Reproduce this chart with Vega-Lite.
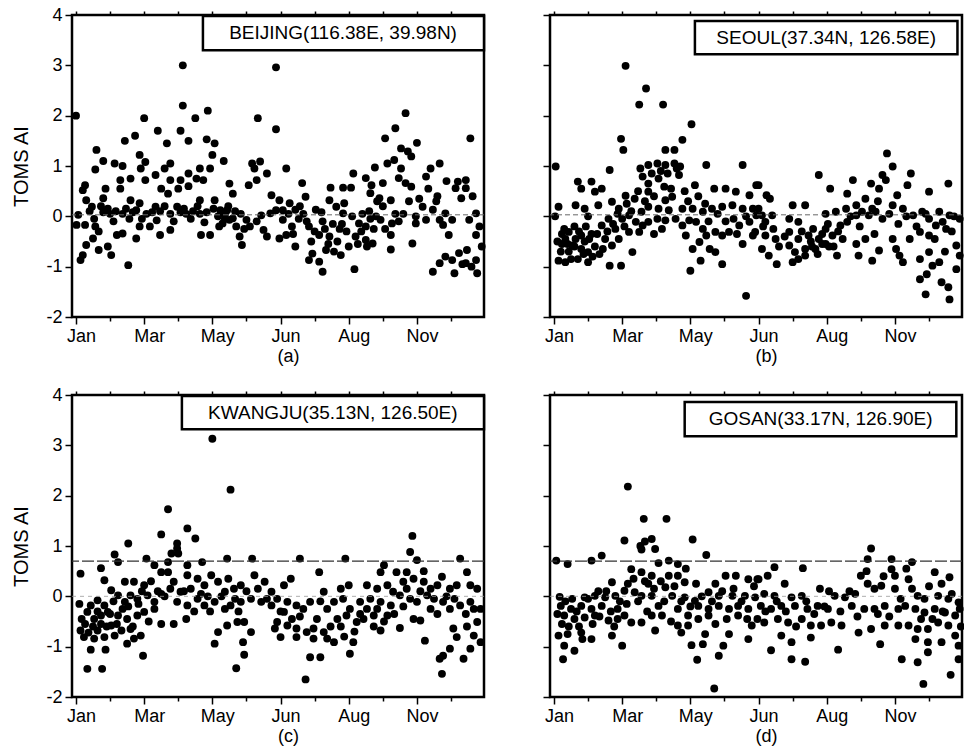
{
"$schema": "https://vega.github.io/schema/vega-lite/v6.json",
"background": "white",
"padding": {"left": 10, "top": 4, "right": 0, "bottom": 0},
"datasets": {
"a": [
{"d":0,"v":2.0},{"d":94,"v":3.0},{"d":94,"v":2.2},{"d":116,"v":2.1},{"d":105,"v":1.95},{"d":60,"v":1.95},{"d":72,"v":1.7},{"d":92,"v":1.7},{"d":99,"v":1.5},{"d":43,"v":1.5},{"d":52,"v":1.6},{"d":80,"v":1.45},{"d":115,"v":1.53},{"d":122,"v":1.45},{"d":120,"v":1.22},{"d":130,"v":1.1},{"d":18,"v":1.32},{"d":24,"v":1.1},{"d":17,"v":0.93},{"d":34,"v":1.05},{"d":41,"v":1.0},{"d":56,"v":1.22},{"d":61,"v":1.08},{"d":57,"v":0.95},{"d":83,"v":1.05},{"d":78,"v":0.95},{"d":109,"v":0.95},{"d":118,"v":0.95},{"d":99,"v":0.85},{"d":106,"v":0.75},{"d":112,"v":0.72},{"d":70,"v":0.82},{"d":61,"v":0.72},{"d":39,"v":0.72},{"d":48,"v":0.75},{"d":83,"v":0.72},{"d":92,"v":0.72},{"d":8,"v":0.62},{"d":6,"v":0.52},{"d":26,"v":0.55},{"d":39,"v":0.55},{"d":75,"v":0.55},{"d":81,"v":0.45},{"d":90,"v":0.55},{"d":99,"v":0.6},{"d":135,"v":0.65},{"d":138,"v":0.45},{"d":155,"v":1.05},{"d":162,"v":1.09},{"d":157,"v":0.95},{"d":168,"v":0.85},{"d":160,"v":1.95},{"d":176,"v":2.96},{"d":176,"v":1.73},{"d":152,"v":0.62},{"d":159,"v":0.72},{"d":172,"v":0.42},{"d":9,"v":0.32},{"d":14,"v":0.19},{"d":24,"v":0.36},{"d":48,"v":0.32},{"d":56,"v":0.26},{"d":70,"v":0.19},{"d":89,"v":0.19},{"d":109,"v":0.32},{"d":122,"v":0.32},
{"d":24,"v":0.08},{"d":30,"v":0.05},{"d":35,"v":0.1},{"d":41,"v":0.05},{"d":50,"v":0.08},{"d":62,"v":0.05},{"d":74,"v":0.1},{"d":83,"v":0.05},{"d":92,"v":0.08},{"d":97,"v":0.05},{"d":103,"v":0.1},{"d":109,"v":0.05},{"d":115,"v":0.08},
{"d":131,"v":0.03},{"d":127,"v":0.12},{"d":133,"v":0.12},{"d":135,"v":-0.07},{"d":129,"v":-0.14},{"d":138,"v":-0.04},{"d":125,"v":0.0},{"d":131,"v":-0.05},
{"d":2,"v":0.03},{"d":0.5,"v":-0.17},{"d":8,"v":-0.17},{"d":17,"v":-0.2},{"d":20,"v":-0.3},{"d":15,"v":-0.44},{"d":9,"v":-0.57},{"d":6,"v":-0.77},{"d":4,"v":-0.87},{"d":20,"v":-0.67},{"d":28,"v":-0.6},{"d":31,"v":-0.77},{"d":36,"v":-0.37},{"d":41,"v":-0.34},{"d":46,"v":-0.97},{"d":56,"v":-0.2},{"d":53,"v":-0.44},{"d":65,"v":-0.2},{"d":74,"v":-0.37},{"d":83,"v":-0.27},{"d":110,"v":-0.37},{"d":118,"v":-0.37},{"d":141,"v":-0.2},{"d":144,"v":-0.4},{"d":146,"v":-0.57},{"d":150,"v":-0.07},{"d":159,"v":-0.1},{"d":165,"v":-0.27},{"d":168,"v":-0.4},{"d":171,"v":0.06},{"d":176,"v":0.12},
{"d":185,"v":0.95},{"d":199,"v":0.66},{"d":224,"v":0.57},{"d":235,"v":0.57},{"d":242,"v":0.57},{"d":244,"v":0.85},{"d":290,"v":2.05},{"d":281,"v":1.75},{"d":272,"v":1.55},{"d":300,"v":1.46},{"d":286,"v":1.35},{"d":292,"v":1.29},{"d":295,"v":1.19},{"d":280,"v":1.12},{"d":274,"v":1.05},{"d":263,"v":0.97},{"d":320,"v":1.05},{"d":312,"v":0.95},{"d":308,"v":0.79},{"d":347,"v":1.55},{"d":284,"v":0.76},{"d":290,"v":0.66},{"d":295,"v":0.59},{"d":255,"v":0.76},{"d":270,"v":0.66},{"d":336,"v":0.69},{"d":343,"v":0.72},{"d":334,"v":0.56},{"d":343,"v":0.56},{"d":339,"v":0.36},{"d":259,"v":0.46},{"d":267,"v":0.36},{"d":277,"v":0.32},{"d":223,"v":0.32},{"d":236,"v":0.26},{"d":179,"v":0.32},{"d":188,"v":0.26},{"d":193,"v":0.13},{"d":182,"v":-0.07},{"d":190,"v":-0.2},{"d":185,"v":-0.37},{"d":179,"v":-0.44},{"d":202,"v":0.39},{"d":211,"v":0.13},{"d":217,"v":-0.1},{"d":205,"v":-0.2},{"d":214,"v":-0.37},{"d":223,"v":-0.4},{"d":229,"v":0.19},{"d":235,"v":0.06},{"d":243,"v":0},{"d":249,"v":-0.14},{"d":255,"v":-0.2},{"d":246,"v":-0.4},{"d":255,"v":-0.47},{"d":193,"v":-0.6},{"d":205,"v":-0.87},{"d":214,"v":-0.9},{"d":217,"v":-1.1},{"d":208,"v":-0.74},{"d":220,"v":-0.67},{"d":227,"v":-0.7},{"d":233,"v":-0.77},{"d":245,"v":-1.05},{"d":261,"v":-0.54},{"d":277,"v":-0.66},{"d":268,"v":-0.07},{"d":278,"v":-0.14},{"d":277,"v":-0.37},{"d":296,"v":-0.54},{"d":299,"v":0},{"d":305,"v":0.19},{"d":308,"v":-0.07},{"d":314,"v":0.13},{"d":320,"v":-0.07},{"d":325,"v":0.06},{"d":331,"v":-0.07},{"d":299,"v":-0.14},{"d":323,"v":-0.17},{"d":328,"v":-0.37},{"d":346,"v":-0.07},{"d":352,"v":0.06},{"d":355,"v":-0.2},{"d":352,"v":-0.37},{"d":314,"v":-1.1},{"d":320,"v":-0.93},{"d":325,"v":-0.8},{"d":331,"v":-0.87},{"d":337,"v":-0.73},{"d":343,"v":-0.93},{"d":333,"v":-1.13},{"d":344,"v":-0.67},{"d":352,"v":-0.87},{"d":353,"v":-1.13},
{"d":196,"v":-0.05},{"d":200,"v":0.05},{"d":226,"v":-0.15},{"d":232,"v":-0.25},{"d":238,"v":-0.3},{"d":252,"v":0.05},{"d":262,"v":-0.25},{"d":284,"v":-0.1},{"d":288,"v":0.05},{"d":258,"v":0.1},{"d":265,"v":0.3},
{"d":12,"v":0.1},{"d":16,"v":-0.05},{"d":22,"v":0.2},{"d":28,"v":0.15},{"d":33,"v":-0.1},{"d":44,"v":0.15},{"d":47,"v":-0.05},{"d":53,"v":0.12},{"d":58,"v":-0.05},{"d":67,"v":0.08},{"d":71,"v":-0.08},{"d":78,"v":0.2},{"d":86,"v":-0.1},{"d":95,"v":0.15},{"d":101,"v":-0.05},{"d":107,"v":0.2},{"d":113,"v":-0.12},{"d":121,"v":0.15},{"d":126,"v":-0.2},{"d":134,"v":0.2},{"d":140,"v":0.1},{"d":145,"v":0.05},{"d":148,"v":-0.25},{"d":153,"v":-0.2},{"d":163,"v":0.02},{"d":182,"v":0.12},{"d":187,"v":0.05},{"d":191,"v":-0.35},{"d":197,"v":0.2},{"d":203,"v":-0.1},{"d":207,"v":-0.5},{"d":210,"v":-0.3},{"d":216,"v":0.08},{"d":219,"v":-0.25},{"d":222,"v":-0.55},{"d":230,"v":-0.5},{"d":234,"v":-0.15},{"d":240,"v":-0.6},{"d":248,"v":-0.55},{"d":251,"v":-0.3},{"d":256,"v":-0.6},{"d":259,"v":-0.05},{"d":264,"v":0.0},{"d":270,"v":0.2},{"d":272,"v":-0.25},{"d":281,"v":0.05},{"d":293,"v":0.3},{"d":302,"v":0.35},{"d":310,"v":0.55},{"d":317,"v":0.3},{"d":326,"v":0.7},{"d":349,"v":0.4},{"d":357,"v":-0.6},{"d":340,"v":-0.95},{"d":348,"v":-1.0},{"d":318,"v":0.4},{"d":286,"v":0.95},{"d":260,"v":0.62}
],
"b": [
{"d":63,"v":2.99},{"d":81,"v":2.54},{"d":75,"v":2.22},{"d":96,"v":2.22},{"d":121,"v":1.83},{"d":113,"v":1.52},{"d":59,"v":1.54},{"d":61,"v":1.32},{"d":98,"v":1.32},{"d":106,"v":1.32},{"d":1.5,"v":0.99},{"d":49,"v":0.92},{"d":134,"v":1.02},{"d":166,"v":1.02},{"d":76,"v":0.95},{"d":83,"v":1.02},{"d":91,"v":1.05},{"d":98,"v":1.02},{"d":106,"v":1.05},{"d":111,"v":0.99},{"d":110,"v":0.82},{"d":78,"v":0.79},{"d":83,"v":0.65},{"d":92,"v":0.75},{"d":97,"v":0.59},{"d":124,"v":0.62},{"d":141,"v":0.55},{"d":151,"v":0.55},{"d":160,"v":0.49},{"d":172,"v":0.42},{"d":178,"v":0.62},{"d":21,"v":0.69},{"d":24,"v":0.55},{"d":33,"v":0.69},{"d":36,"v":0.49},{"d":42,"v":0.55},{"d":63,"v":0.41},{"d":83,"v":0.49},{"d":104,"v":0.39},{"d":98,"v":0.32},{"d":4,"v":0.19},{"d":19,"v":0.22},{"d":27,"v":0.15},{"d":39,"v":0.22},{"d":51,"v":0.29},{"d":57,"v":0.15},{"d":83,"v":0.19},{"d":77,"v":0.09},{"d":92,"v":0.15},{"d":101,"v":0.12},{"d":113,"v":0.15},{"d":122,"v":0.15},{"d":131,"v":0.09},{"d":139,"v":0.15},{"d":148,"v":0.19},{"d":157,"v":0.22},{"d":166,"v":0.15},{"d":175,"v":0.15},{"d":1,"v":0},{"d":30,"v":0},{"d":7,"v":-0.35},{"d":13,"v":-0.31},{"d":19,"v":-0.45},{"d":24,"v":-0.38},{"d":33,"v":-0.35},{"d":7,"v":-0.55},{"d":16,"v":-0.58},{"d":24,"v":-0.65},{"d":30,"v":-0.71},{"d":21,"v":-0.85},{"d":4,"v":-0.88},{"d":10,"v":-0.91},{"d":30,"v":-0.91},{"d":42,"v":-0.18},{"d":48,"v":-0.05},{"d":54,"v":-0.25},{"d":60,"v":-0.05},{"d":66,"v":0.02},{"d":72,"v":-0.11},{"d":78,"v":-0.18},{"d":83,"v":-0.11},{"d":45,"v":-0.45},{"d":51,"v":-0.58},{"d":57,"v":-0.45},{"d":66,"v":-0.31},{"d":75,"v":-0.31},{"d":69,"v":-0.71},{"d":49,"v":-0.98},{"d":59,"v":-0.98},{"d":88,"v":-0.35},{"d":95,"v":-0.25},{"d":91,"v":-0.05},{"d":98,"v":-0.08},{"d":107,"v":-0.05},{"d":113,"v":-0.18},{"d":119,"v":-0.08},{"d":125,"v":-0.11},{"d":131,"v":-0.25},{"d":116,"v":-0.38},{"d":122,"v":-0.65},{"d":128,"v":-0.51},{"d":134,"v":-0.38},{"d":137,"v":-0.65},{"d":142,"v":-0.31},{"d":148,"v":-0.38},{"d":154,"v":-0.31},{"d":120,"v":-1.08},{"d":129,"v":-0.88},{"d":142,"v":-0.71},{"d":148,"v":-0.95},{"d":163,"v":-0.18},{"d":172,"v":-0.11},{"d":178,"v":0.02},{"d":166,"v":-0.55},{"d":175,"v":-0.38},{"d":169,"v":-1.58},
{"d":10,"v":-0.45},{"d":13,"v":-0.7},{"d":27,"v":-0.5},{"d":18,"v":-0.2},{"d":36,"v":-0.6},{"d":40,"v":-0.75},
{"d":293,"v":1.25},{"d":298,"v":0.99},{"d":233,"v":0.82},{"d":263,"v":0.72},{"d":243,"v":0.55},{"d":258,"v":0.45},{"d":274,"v":0.35},{"d":279,"v":0.65},{"d":286,"v":0.55},{"d":289,"v":0.82},{"d":292,"v":0.72},{"d":314,"v":0.85},{"d":311,"v":0.62},{"d":302,"v":0.42},{"d":298,"v":0.22},{"d":330,"v":0.49},{"d":347,"v":0.65},{"d":180,"v":0.62},{"d":187,"v":0.42},{"d":190,"v":0.35},{"d":210,"v":0.22},{"d":221,"v":0.22},{"d":180,"v":0.15},{"d":183,"v":0.02},{"d":192,"v":0.02},{"d":186,"v":-0.11},{"d":239,"v":0.05},{"d":248,"v":0.09},{"d":257,"v":0.15},{"d":266,"v":0.22},{"d":271,"v":0.09},{"d":277,"v":0.02},{"d":283,"v":0.09},{"d":289,"v":-0.05},{"d":266,"v":0.02},{"d":307,"v":0.15},{"d":316,"v":0.02},{"d":324,"v":0.09},{"d":330,"v":-0.05},{"d":339,"v":0.09},{"d":348,"v":0.02},{"d":357,"v":-0.05},{"d":207,"v":-0.05},{"d":215,"v":-0.11},{"d":177,"v":-0.31},{"d":186,"v":-0.38},{"d":195,"v":-0.45},{"d":183,"v":-0.65},{"d":207,"v":-0.31},{"d":215,"v":-0.45},{"d":224,"v":-0.38},{"d":233,"v":-0.45},{"d":239,"v":-0.25},{"d":245,"v":-0.38},{"d":207,"v":-0.58},{"d":212,"v":-0.71},{"d":221,"v":-0.65},{"d":230,"v":-0.65},{"d":239,"v":-0.55},{"d":189,"v":-0.78},{"d":196,"v":-0.95},{"d":210,"v":-0.91},{"d":215,"v":-0.85},{"d":221,"v":-0.78},{"d":252,"v":-0.18},{"d":258,"v":-0.11},{"d":254,"v":-0.45},{"d":266,"v":-0.55},{"d":274,"v":-0.45},{"d":282,"v":-0.35},{"d":249,"v":-0.78},{"d":268,"v":-0.78},{"d":280,"v":-0.88},{"d":286,"v":-0.68},{"d":298,"v":-0.45},{"d":301,"v":-0.65},{"d":304,"v":-0.78},{"d":307,"v":-0.91},{"d":313,"v":-0.45},{"d":322,"v":-0.31},{"d":330,"v":-0.38},{"d":336,"v":-0.18},{"d":342,"v":-0.11},{"d":345,"v":-0.25},{"d":322,"v":-0.85},{"d":330,"v":-0.71},{"d":333,"v":-0.98},{"d":339,"v":-0.91},{"d":354,"v":-0.58},{"d":357,"v":-0.78},{"d":354,"v":-1.05},{"d":322,"v":-1.25},{"d":328,"v":-1.15},{"d":341,"v":-1.31},{"d":347,"v":-1.41},{"d":327,"v":-1.55},{"d":348,"v":-1.65},
{"d":226,"v":-0.5},{"d":236,"v":-0.35},{"d":242,"v":-0.6},{"d":228,"v":-0.25},
{"d":3,"v":-0.5},{"d":6,"v":-0.7},{"d":9,"v":-0.25},{"d":12,"v":-0.55},{"d":15,"v":-0.85},{"d":18,"v":-0.6},{"d":22,"v":-0.3},{"d":26,"v":-0.75},{"d":28,"v":-0.2},{"d":31,"v":-0.45},{"d":34,"v":-0.8},{"d":38,"v":-0.35},{"d":43,"v":-0.65},{"d":47,"v":-0.3},{"d":52,"v":-0.15},{"d":56,"v":0.05},{"d":62,"v":-0.2},{"d":64,"v":0.25},{"d":68,"v":0.1},{"d":71,"v":0.35},{"d":74,"v":0.5},{"d":80,"v":0.3},{"d":86,"v":0.85},{"d":88,"v":0.4},{"d":94,"v":0.9},{"d":100,"v":0.85},{"d":103,"v":0.55},{"d":108,"v":0.95},{"d":115,"v":0.5},{"d":118,"v":0.3},{"d":127,"v":0.4},{"d":133,"v":0.25},{"d":136,"v":-0.1},{"d":144,"v":0.05},{"d":151,"v":-0.1},{"d":158,"v":-0.05},{"d":161,"v":-0.35},{"d":169,"v":0.0},{"d":184,"v":-0.2},{"d":193,"v":-0.25},{"d":198,"v":-0.6},{"d":203,"v":-0.4},{"d":218,"v":-0.3},{"d":227,"v":-0.6},{"d":232,"v":-0.75},{"d":236,"v":-0.55},{"d":241,"v":-0.15},{"d":246,"v":-0.6},{"d":250,"v":-0.3},{"d":261,"v":0.0},{"d":269,"v":-0.2},{"d":280,"v":0.15},{"d":285,"v":0.3},{"d":295,"v":0.05},{"d":303,"v":-0.15},{"d":310,"v":0.0},{"d":319,"v":-0.2},{"d":327,"v":0.05},{"d":335,"v":-0.45},{"d":350,"v":-0.3},{"d":352,"v":0.0},{"d":344,"v":-0.7}
],
"c": [
{"d":120,"v":3.13},{"d":136,"v":2.12},{"d":81,"v":1.73},{"d":98,"v":1.35},{"d":105,"v":1.15},{"d":75,"v":1.23},{"d":46,"v":1.05},{"d":89,"v":1.05},{"d":89,"v":0.95},{"d":84,"v":0.85},{"d":90,"v":0.85},{"d":34,"v":0.83},{"d":37,"v":0.68},{"d":133,"v":0.75},{"d":155,"v":0.75},{"d":111,"v":0.68},{"d":62,"v":0.75},{"d":69,"v":0.62},{"d":81,"v":0.68},{"d":75,"v":0.48},{"d":81,"v":0.48},{"d":98,"v":0.62},{"d":98,"v":0.42},{"d":22,"v":0.56},{"d":4,"v":0.45},{"d":25,"v":0.32},{"d":43,"v":0.29},{"d":51,"v":0.29},{"d":60,"v":0.22},{"d":31,"v":0.12},{"d":86,"v":0.29},{"d":92,"v":0.09},{"d":107,"v":0.35},{"d":113,"v":0.22},{"d":119,"v":0.42},{"d":125,"v":0.29},{"d":131,"v":0.09},{"d":139,"v":0.15},{"d":145,"v":0.22},{"d":157,"v":0.42},{"d":166,"v":0.29},{"d":172,"v":0.09},{"d":3,"v":-0.15},{"d":13,"v":-0.18},{"d":19,"v":-0.08},{"d":25,"v":-0.18},{"d":10,"v":-0.31},{"d":16,"v":-0.45},{"d":22,"v":-0.38},{"d":28,"v":-0.31},{"d":37,"v":0.02},{"d":43,"v":-0.11},{"d":48,"v":0.02},{"d":54,"v":-0.05},{"d":63,"v":0.02},{"d":69,"v":-0.11},{"d":75,"v":0.05},{"d":37,"v":-0.38},{"d":45,"v":-0.45},{"d":54,"v":-0.38},{"d":60,"v":-0.31},{"d":69,"v":-0.25},{"d":89,"v":-0.11},{"d":98,"v":-0.18},{"d":107,"v":-0.05},{"d":113,"v":-0.18},{"d":122,"v":-0.11},{"d":131,"v":-0.25},{"d":136,"v":-0.18},{"d":145,"v":-0.11},{"d":154,"v":-0.05},{"d":163,"v":-0.11},{"d":172,"v":-0.18},{"d":75,"v":-0.55},{"d":86,"v":-0.55},{"d":97,"v":-0.45},{"d":4,"v":-0.68},{"d":19,"v":-0.68},{"d":31,"v":-0.58},{"d":40,"v":-0.68},{"d":48,"v":-0.65},{"d":57,"v":-0.78},{"d":7,"v":-0.81},{"d":16,"v":-0.84},{"d":25,"v":-0.81},{"d":34,"v":-0.78},{"d":45,"v":-0.94},{"d":51,"v":-0.84},{"d":13,"v":-1.06},{"d":26,"v":-1.06},{"d":59,"v":-1.18},{"d":10,"v":-1.44},{"d":23,"v":-1.44},{"d":125,"v":-0.71},{"d":133,"v":-0.58},{"d":142,"v":-0.51},{"d":148,"v":-0.51},{"d":154,"v":-0.71},{"d":122,"v":-0.94},{"d":147,"v":-0.91},{"d":148,"v":-1.16},{"d":141,"v":-1.43},{"d":175,"v":-0.64},
{"d":296,"v":1.2},{"d":294,"v":0.88},{"d":300,"v":0.72},{"d":197,"v":0.75},{"d":237,"v":0.75},{"d":338,"v":0.75},{"d":214,"v":0.48},{"d":271,"v":0.62},{"d":268,"v":0.48},{"d":282,"v":0.48},{"d":291,"v":0.48},{"d":322,"v":0.39},{"d":344,"v":0.48},{"d":189,"v":0.35},{"d":183,"v":0.22},{"d":240,"v":0.22},{"d":233,"v":0.15},{"d":218,"v":0.09},{"d":256,"v":0.22},{"d":265,"v":0.15},{"d":274,"v":0.22},{"d":279,"v":0.09},{"d":288,"v":0.29},{"d":297,"v":0.35},{"d":306,"v":0.29},{"d":312,"v":0.15},{"d":318,"v":0.22},{"d":329,"v":0.15},{"d":335,"v":0.22},{"d":347,"v":0.22},{"d":353,"v":0.15},{"d":177,"v":-0.05},{"d":186,"v":-0.11},{"d":183,"v":-0.31},{"d":194,"v":-0.18},{"d":200,"v":-0.25},{"d":206,"v":-0.11},{"d":221,"v":-0.25},{"d":227,"v":-0.11},{"d":235,"v":-0.05},{"d":241,"v":-0.25},{"d":250,"v":-0.11},{"d":259,"v":-0.05},{"d":268,"v":-0.11},{"d":277,"v":-0.18},{"d":285,"v":0.02},{"d":294,"v":-0.05},{"d":300,"v":-0.11},{"d":309,"v":0.02},{"d":315,"v":-0.05},{"d":323,"v":-0.11},{"d":329,"v":-0.25},{"d":338,"v":-0.18},{"d":347,"v":-0.11},{"d":356,"v":-0.25},{"d":177,"v":-0.51},{"d":186,"v":-0.58},{"d":194,"v":-0.64},{"d":203,"v":-0.71},{"d":209,"v":-0.64},{"d":218,"v":-0.71},{"d":180,"v":-0.81},{"d":194,"v":-0.81},{"d":209,"v":-0.84},{"d":221,"v":-0.84},{"d":227,"v":-0.91},{"d":230,"v":-0.45},{"d":238,"v":-0.38},{"d":247,"v":-0.51},{"d":253,"v":-0.45},{"d":262,"v":-0.38},{"d":274,"v":-0.38},{"d":268,"v":-0.68},{"d":285,"v":-0.63},{"d":297,"v":-0.45},{"d":303,"v":-0.48},{"d":244,"v":-0.91},{"d":241,"v":-1.14},{"d":206,"v":-1.21},{"d":215,"v":-1.21},{"d":202,"v":-1.65},{"d":307,"v":-0.88},{"d":332,"v":-0.64},{"d":335,"v":-0.81},{"d":329,"v":-1.04},{"d":323,"v":-1.18},{"d":320,"v":-1.24},{"d":322,"v":-1.54},{"d":347,"v":-1.04},{"d":341,"v":-1.24},{"d":350,"v":-0.78},{"d":353,"v":-0.51},{"d":356,"v":-0.91},
{"d":5,"v":-0.45},{"d":8,"v":-0.55},{"d":11,"v":-0.72},{"d":15,"v":-0.6},{"d":19,"v":-0.3},{"d":22,"v":-0.55},{"d":27,"v":-0.6},{"d":30,"v":-0.35},{"d":33,"v":-0.1},{"d":36,"v":-0.55},{"d":41,"v":-0.25},{"d":46,"v":-0.2},{"d":50,"v":-0.6},{"d":55,"v":-0.15},{"d":58,"v":0.1},{"d":64,"v":-0.5},{"d":66,"v":0.3},{"d":72,"v":0.1},{"d":78,"v":0.0},{"d":83,"v":0.15},{"d":95,"v":0.1},{"d":101,"v":0.15},{"d":104,"v":-0.3},{"d":110,"v":0.05},{"d":116,"v":0.0},{"d":118,"v":-0.3},{"d":128,"v":0.0},{"d":134,"v":0.35},{"d":140,"v":-0.05},{"d":143,"v":-0.3},{"d":150,"v":0.1},{"d":160,"v":0.15},{"d":168,"v":-0.05},{"d":180,"v":-0.3},{"d":190,"v":-0.45},{"d":197,"v":-0.4},{"d":212,"v":-0.45},{"d":215,"v":-0.1},{"d":224,"v":-0.6},{"d":233,"v":-0.6},{"d":236,"v":-0.8},{"d":245,"v":-0.7},{"d":250,"v":-0.35},{"d":256,"v":-0.25},{"d":262,"v":-0.6},{"d":265,"v":-0.25},{"d":271,"v":-0.5},{"d":280,"v":-0.35},{"d":288,"v":-0.2},{"d":291,"v":0.15},{"d":303,"v":0.1},{"d":306,"v":0.5},{"d":312,"v":-0.25},{"d":318,"v":-0.35},{"d":326,"v":0.0},{"d":333,"v":-0.05},{"d":343,"v":-0.35},{"d":350,"v":-0.25},{"d":344,"v":-0.6}
],
"d": [
{"d":65,"v":2.18},{"d":79,"v":1.54},{"d":99,"v":1.54},{"d":62,"v":1.11},{"d":122,"v":1.13},{"d":76,"v":1.0},{"d":80,"v":1.09},{"d":86,"v":1.14},{"d":89,"v":0.94},{"d":77,"v":0.93},{"d":134,"v":0.82},{"d":2,"v":0.71},{"d":12,"v":0.64},{"d":33,"v":0.71},{"d":42,"v":0.81},{"d":92,"v":0.66},{"d":101,"v":0.71},{"d":109,"v":0.64},{"d":68,"v":0.54},{"d":77,"v":0.48},{"d":86,"v":0.41},{"d":83,"v":0.25},{"d":101,"v":0.41},{"d":109,"v":0.41},{"d":115,"v":0.28},{"d":51,"v":0.28},{"d":151,"v":0.41},{"d":160,"v":0.41},{"d":171,"v":0.34},{"d":180,"v":0.34},{"d":142,"v":0.25},{"d":136,"v":0.08},{"d":65,"v":0.25},{"d":71,"v":0.08},{"d":62,"v":0.11},{"d":98,"v":0.18},{"d":104,"v":0.01},{"d":5,"v":-0.01},{"d":27,"v":-0.02},{"d":36,"v":0.01},{"d":45,"v":-0.02},{"d":54,"v":0.01},{"d":77,"v":0.01},{"d":86,"v":0.01},{"d":115,"v":-0.02},{"d":124,"v":-0.09},{"d":145,"v":0.01},{"d":157,"v":0.01},{"d":168,"v":0.01},{"d":177,"v":-0.02},{"d":6,"v":-0.19},{"d":15,"v":-0.25},{"d":24,"v":-0.19},{"d":33,"v":-0.25},{"d":42,"v":-0.19},{"d":56,"v":-0.25},{"d":62,"v":-0.38},{"d":92,"v":-0.19},{"d":95,"v":-0.38},{"d":109,"v":-0.25},{"d":118,"v":-0.38},{"d":127,"v":-0.19},{"d":136,"v":-0.25},{"d":145,"v":-0.19},{"d":154,"v":-0.25},{"d":162,"v":-0.19},{"d":171,"v":-0.25},{"d":9,"v":-0.38},{"d":18,"v":-0.45},{"d":27,"v":-0.42},{"d":36,"v":-0.38},{"d":48,"v":-0.48},{"d":56,"v":-0.45},{"d":68,"v":-0.52},{"d":77,"v":-0.52},{"d":86,"v":-0.38},{"d":109,"v":-0.58},{"d":118,"v":-0.58},{"d":127,"v":-0.45},{"d":136,"v":-0.38},{"d":162,"v":-0.38},{"d":174,"v":-0.58},{"d":4,"v":-0.78},{"d":12,"v":-0.75},{"d":24,"v":-0.72},{"d":33,"v":-0.85},{"d":51,"v":-0.78},{"d":60,"v":-0.98},{"d":89,"v":-0.68},{"d":112,"v":-0.72},{"d":133,"v":-0.75},{"d":154,"v":-0.75},{"d":171,"v":-0.85},{"d":9,"v":-0.98},{"d":18,"v":-1.08},{"d":8,"v":-1.25},{"d":121,"v":-0.97},{"d":131,"v":-0.95},{"d":149,"v":-0.98},{"d":145,"v":-1.18},{"d":126,"v":-1.26},{"d":141,"v":-1.83},
{"d":279,"v":0.95},{"d":276,"v":0.74},{"d":297,"v":0.74},{"d":315,"v":0.68},{"d":219,"v":0.56},{"d":194,"v":0.58},{"d":188,"v":0.41},{"d":297,"v":0.54},{"d":300,"v":0.41},{"d":335,"v":0.48},{"d":348,"v":0.38},{"d":341,"v":0.25},{"d":203,"v":0.25},{"d":179,"v":0.34},{"d":234,"v":0.15},{"d":270,"v":0.41},{"d":276,"v":0.25},{"d":282,"v":0.15},{"d":288,"v":0.21},{"d":312,"v":0.34},{"d":315,"v":0.15},{"d":320,"v":0.01},{"d":326,"v":-0.05},{"d":338,"v":0.01},{"d":347,"v":-0.05},{"d":356,"v":-0.12},{"d":185,"v":0.05},{"d":194,"v":0.01},{"d":209,"v":-0.02},{"d":218,"v":0.01},{"d":247,"v":0.01},{"d":256,"v":-0.02},{"d":265,"v":0.05},{"d":182,"v":-0.19},{"d":191,"v":-0.25},{"d":200,"v":-0.19},{"d":212,"v":-0.19},{"d":223,"v":-0.25},{"d":232,"v":-0.19},{"d":241,"v":-0.25},{"d":262,"v":-0.19},{"d":273,"v":-0.25},{"d":282,"v":-0.25},{"d":291,"v":-0.19},{"d":303,"v":-0.25},{"d":309,"v":-0.19},{"d":318,"v":-0.25},{"d":326,"v":-0.32},{"d":335,"v":-0.25},{"d":344,"v":-0.32},{"d":353,"v":-0.38},{"d":357,"v":-0.25},{"d":179,"v":-0.45},{"d":185,"v":-0.52},{"d":197,"v":-0.45},{"d":206,"v":-0.52},{"d":218,"v":-0.45},{"d":226,"v":-0.58},{"d":235,"v":-0.58},{"d":244,"v":-0.52},{"d":253,"v":-0.58},{"d":268,"v":-0.72},{"d":279,"v":-0.65},{"d":291,"v":-0.58},{"d":303,"v":-0.58},{"d":312,"v":-0.58},{"d":320,"v":-0.65},{"d":329,"v":-0.65},{"d":338,"v":-0.52},{"d":347,"v":-0.58},{"d":200,"v":-0.78},{"d":209,"v":-0.91},{"d":226,"v":-0.82},{"d":287,"v":-0.95},{"d":318,"v":-0.85},{"d":329,"v":-0.91},{"d":341,"v":-0.91},{"d":353,"v":-0.78},{"d":356,"v":-0.98},{"d":191,"v":-1.07},{"d":209,"v":-1.25},{"d":221,"v":-1.3},{"d":250,"v":-1.06},{"d":306,"v":-1.25},{"d":320,"v":-1.31},{"d":329,"v":-1.11},{"d":356,"v":-1.25},{"d":349,"v":-1.56},{"d":325,"v":-1.74},
{"d":3,"v":-0.35},{"d":7,"v":-0.55},{"d":10,"v":-0.1},{"d":13,"v":-0.6},{"d":16,"v":-0.05},{"d":20,"v":-0.3},{"d":22,"v":-0.6},{"d":25,"v":-0.85},{"d":30,"v":-0.05},{"d":34,"v":-0.55},{"d":39,"v":0.1},{"d":40,"v":-0.4},{"d":46,"v":0.1},{"d":50,"v":-0.3},{"d":53,"v":-0.6},{"d":58,"v":-0.1},{"d":64,"v":-0.15},{"d":70,"v":0.35},{"d":74,"v":-0.1},{"d":80,"v":0.3},{"d":82,"v":-0.3},{"d":88,"v":0.15},{"d":94,"v":0.3},{"d":97,"v":-0.1},{"d":103,"v":-0.5},{"d":106,"v":0.2},{"d":112,"v":-0.1},{"d":116,"v":0.55},{"d":120,"v":-0.2},{"d":125,"v":0.25},{"d":130,"v":0.0},{"d":139,"v":-0.1},{"d":142,"v":-0.55},{"d":148,"v":0.1},{"d":152,"v":-0.45},{"d":158,"v":0.15},{"d":165,"v":-0.1},{"d":170,"v":-0.45},{"d":176,"v":0.2},{"d":186,"v":-0.3},{"d":196,"v":-0.1},{"d":204,"v":-0.3},{"d":213,"v":-0.6},{"d":222,"v":-0.1},{"d":229,"v":-0.35},{"d":238,"v":-0.2},{"d":242,"v":0.1},{"d":252,"v":-0.3},{"d":260,"v":0.1},{"d":267,"v":-0.4},{"d":275,"v":0.5},{"d":285,"v":-0.35},{"d":290,"v":0.4},{"d":295,"v":-0.4},{"d":300,"v":0.15},{"d":305,"v":-0.05},{"d":310,"v":0.55},{"d":323,"v":-0.45},{"d":330,"v":0.2},{"d":333,"v":-0.45},{"d":342,"v":-0.3},{"d":350,"v":0.05},{"d":358,"v":-0.6}
]
},
"columns": 2,
"spacing": {"column": 66, "row": 78},
"bounds": "flush",
"concat": [
{"width": 412, "height": 302, "resolve": {"axis": {"x": "independent"}}, "layer": [
{"data": {"name": "a"}, "mark": {"type": "circle", "size": 62, "color": "black", "opacity": 1},
"encoding": {
"x": {"field": "d", "type": "quantitative", "scale": {"domain": [-3.5, 359], "nice": false, "zero": false}, "axis": {"orient": "bottom", "values": [0,30,60,90,120,150,180,210,240,270,300,330], "labelExpr": "datum.value == 0 ? 'Jan' : datum.value == 60 ? 'Mar' : datum.value == 120 ? 'May' : datum.value == 180 ? 'Jun' : datum.value == 240 ? 'Aug' : datum.value == 300 ? 'Nov' : ''", "tickSize": {"condition": {"test": "datum.value % 60 == 0", "value": 7}, "value": 4}, "labelPadding": 3, "labelOffset": 5, "title": "(a)", "titlePadding": 2, "titleX": 216}},
"y": {"field": "v", "type": "quantitative", "scale": {"domain": [-2, 4], "nice": false, "zero": false}, "axis": {"orient": "left", "values": [-2,-1.5,-1,-0.5,0,0.5,1,1.5,2,2.5,3,3.5,4], "labelExpr": "datum.value % 1 == 0 ? '' + datum.value : ''", "tickSize": {"condition": {"test": "datum.value % 1 == 0", "value": 7}, "value": 4}, "labelPadding": 3, "title": "TOMS  AI", "titleFontSize": 20, "titlePadding": 14}}
}},
{"data": {"values": [{}]}, "mark": {"type": "rule", "color": "#666666", "strokeWidth": 1, "strokeDash": [5, 3]}, "encoding": {"y": {"datum": 0.03, "type": "quantitative"}}},
{"data": {"values": [{}]}, "mark": {"type": "rect", "fill": "white", "stroke": "black", "strokeWidth": 2.5},
"encoding": {"x": {"datum": 111.7, "type": "quantitative", "axis": {"orient": "top", "values": [0,30,60,90,120,150,180,210,240,270,300,330], "labels": false, "tickSize": 4, "title": null}}, "x2": {"datum": 359}, "y": {"datum": 3.3, "type": "quantitative"}, "y2": {"datum": 3.98}}},
{"data": {"values": [{}]}, "mark": {"type": "text", "fontSize": 19, "font": "Liberation Sans", "color": "black"},
"encoding": {"x": {"datum": 235, "type": "quantitative", "axis": null}, "y": {"datum": 3.64, "type": "quantitative"}, "text": {"value": "BEIJING(116.38E, 39.98N)"}}}
]},
{"width": 412, "height": 302, "resolve": {"axis": {"x": "independent"}}, "layer": [
{"data": {"name": "b"}, "mark": {"type": "circle", "size": 62, "color": "black", "opacity": 1},
"encoding": {
"x": {"field": "d", "type": "quantitative", "scale": {"domain": [-3.5, 359], "nice": false, "zero": false}, "axis": {"orient": "bottom", "values": [0,30,60,90,120,150,180,210,240,270,300,330], "labelExpr": "datum.value == 0 ? 'Jan' : datum.value == 60 ? 'Mar' : datum.value == 120 ? 'May' : datum.value == 180 ? 'Jun' : datum.value == 240 ? 'Aug' : datum.value == 300 ? 'Nov' : ''", "tickSize": {"condition": {"test": "datum.value % 60 == 0", "value": 7}, "value": 4}, "labelPadding": 3, "labelOffset": 5, "title": "(b)", "titlePadding": 2, "titleX": 216}},
"y": {"field": "v", "type": "quantitative", "scale": {"domain": [-2, 4], "nice": false, "zero": false}, "axis": {"orient": "left", "values": [-2,-1.5,-1,-0.5,0,0.5,1,1.5,2,2.5,3,3.5,4], "labels": false, "tickSize": {"condition": {"test": "datum.value % 1 == 0", "value": 7}, "value": 4}, "title": null}}
}},
{"data": {"values": [{}]}, "mark": {"type": "rule", "color": "#666666", "strokeWidth": 1, "strokeDash": [5, 3]}, "encoding": {"y": {"datum": 0.03, "type": "quantitative"}}},
{"data": {"values": [{}]}, "mark": {"type": "rect", "fill": "white", "stroke": "black", "strokeWidth": 2.5},
"encoding": {"x": {"datum": 124, "type": "quantitative", "axis": {"orient": "top", "values": [0,30,60,90,120,150,180,210,240,270,300,330], "labels": false, "tickSize": 4, "title": null}}, "x2": {"datum": 355}, "y": {"datum": 3.22, "type": "quantitative"}, "y2": {"datum": 3.88}}},
{"data": {"values": [{}]}, "mark": {"type": "text", "fontSize": 19, "font": "Liberation Sans", "color": "black"},
"encoding": {"x": {"datum": 239.5, "type": "quantitative", "axis": null}, "y": {"datum": 3.55, "type": "quantitative"}, "text": {"value": "SEOUL(37.34N, 126.58E)"}}}
]},
{"width": 412, "height": 302, "resolve": {"axis": {"x": "independent"}}, "layer": [
{"data": {"name": "c"}, "mark": {"type": "circle", "size": 62, "color": "black", "opacity": 1},
"encoding": {
"x": {"field": "d", "type": "quantitative", "scale": {"domain": [-3.5, 359], "nice": false, "zero": false}, "axis": {"orient": "bottom", "values": [0,30,60,90,120,150,180,210,240,270,300,330], "labelExpr": "datum.value == 0 ? 'Jan' : datum.value == 60 ? 'Mar' : datum.value == 120 ? 'May' : datum.value == 180 ? 'Jun' : datum.value == 240 ? 'Aug' : datum.value == 300 ? 'Nov' : ''", "tickSize": {"condition": {"test": "datum.value % 60 == 0", "value": 7}, "value": 4}, "labelPadding": 3, "labelOffset": 5, "title": "(c)", "titlePadding": 2, "titleX": 216}},
"y": {"field": "v", "type": "quantitative", "scale": {"domain": [-2, 4], "nice": false, "zero": false}, "axis": {"orient": "left", "values": [-2,-1.5,-1,-0.5,0,0.5,1,1.5,2,2.5,3,3.5,4], "labelExpr": "datum.value % 1 == 0 ? '' + datum.value : ''", "tickSize": {"condition": {"test": "datum.value % 1 == 0", "value": 7}, "value": 4}, "labelPadding": 3, "title": "TOMS  AI", "titleFontSize": 20, "titlePadding": 14}}
}},
{"data": {"values": [{}]}, "mark": {"type": "rule", "color": "#999999", "strokeWidth": 0.8, "strokeDash": [4, 4]}, "encoding": {"y": {"datum": 0, "type": "quantitative"}}},
{"data": {"values": [{}]}, "mark": {"type": "rule", "color": "#333333", "strokeWidth": 1.2, "strokeDash": [12, 3]}, "encoding": {"y": {"datum": 0.7, "type": "quantitative"}}},
{"data": {"values": [{}]}, "mark": {"type": "rect", "fill": "white", "stroke": "black", "strokeWidth": 2.5},
"encoding": {"x": {"datum": 93.2, "type": "quantitative", "axis": {"orient": "top", "values": [0,30,60,90,120,150,180,210,240,270,300,330], "labels": false, "tickSize": 4, "title": null}}, "x2": {"datum": 359}, "y": {"datum": 3.32, "type": "quantitative"}, "y2": {"datum": 3.98}}},
{"data": {"values": [{}]}, "mark": {"type": "text", "fontSize": 19, "font": "Liberation Sans", "color": "black"},
"encoding": {"x": {"datum": 226, "type": "quantitative", "axis": null}, "y": {"datum": 3.65, "type": "quantitative"}, "text": {"value": "KWANGJU(35.13N, 126.50E)"}}}
]},
{"width": 412, "height": 302, "resolve": {"axis": {"x": "independent"}}, "layer": [
{"data": {"name": "d"}, "mark": {"type": "circle", "size": 62, "color": "black", "opacity": 1},
"encoding": {
"x": {"field": "d", "type": "quantitative", "scale": {"domain": [-3.5, 359], "nice": false, "zero": false}, "axis": {"orient": "bottom", "values": [0,30,60,90,120,150,180,210,240,270,300,330], "labelExpr": "datum.value == 0 ? 'Jan' : datum.value == 60 ? 'Mar' : datum.value == 120 ? 'May' : datum.value == 180 ? 'Jun' : datum.value == 240 ? 'Aug' : datum.value == 300 ? 'Nov' : ''", "tickSize": {"condition": {"test": "datum.value % 60 == 0", "value": 7}, "value": 4}, "labelPadding": 3, "labelOffset": 5, "title": "(d)", "titlePadding": 2, "titleX": 216}},
"y": {"field": "v", "type": "quantitative", "scale": {"domain": [-2, 4], "nice": false, "zero": false}, "axis": {"orient": "left", "values": [-2,-1.5,-1,-0.5,0,0.5,1,1.5,2,2.5,3,3.5,4], "labels": false, "tickSize": {"condition": {"test": "datum.value % 1 == 0", "value": 7}, "value": 4}, "title": null}}
}},
{"data": {"values": [{}]}, "mark": {"type": "rule", "color": "#999999", "strokeWidth": 0.8, "strokeDash": [4, 4]}, "encoding": {"y": {"datum": 0, "type": "quantitative"}}},
{"data": {"values": [{}]}, "mark": {"type": "rule", "color": "#333333", "strokeWidth": 1.2, "strokeDash": [12, 3]}, "encoding": {"y": {"datum": 0.7, "type": "quantitative"}}},
{"data": {"values": [{}]}, "mark": {"type": "rect", "fill": "white", "stroke": "black", "strokeWidth": 2.5},
"encoding": {"x": {"datum": 115, "type": "quantitative", "axis": {"orient": "top", "values": [0,30,60,90,120,150,180,210,240,270,300,330], "labels": false, "tickSize": 4, "title": null}}, "x2": {"datum": 354}, "y": {"datum": 3.18, "type": "quantitative"}, "y2": {"datum": 3.86}}},
{"data": {"values": [{}]}, "mark": {"type": "text", "fontSize": 19, "font": "Liberation Sans", "color": "black"},
"encoding": {"x": {"datum": 234.6, "type": "quantitative", "axis": null}, "y": {"datum": 3.52, "type": "quantitative"}, "text": {"value": "GOSAN(33.17N, 126.90E)"}}}
]}
],
"config": {
"view": {"stroke": "black", "strokeWidth": 2.5},
"axis": {"domain": false, "grid": false, "tickColor": "black", "tickWidth": 1.5, "labelColor": "black", "labelFont": "Liberation Sans", "labelFontSize": 18, "titleFont": "Liberation Sans", "titleFontSize": 18, "titleFontWeight": "normal", "titleColor": "black", "labelOverlap": false, "labelFlush": false}
}
}
